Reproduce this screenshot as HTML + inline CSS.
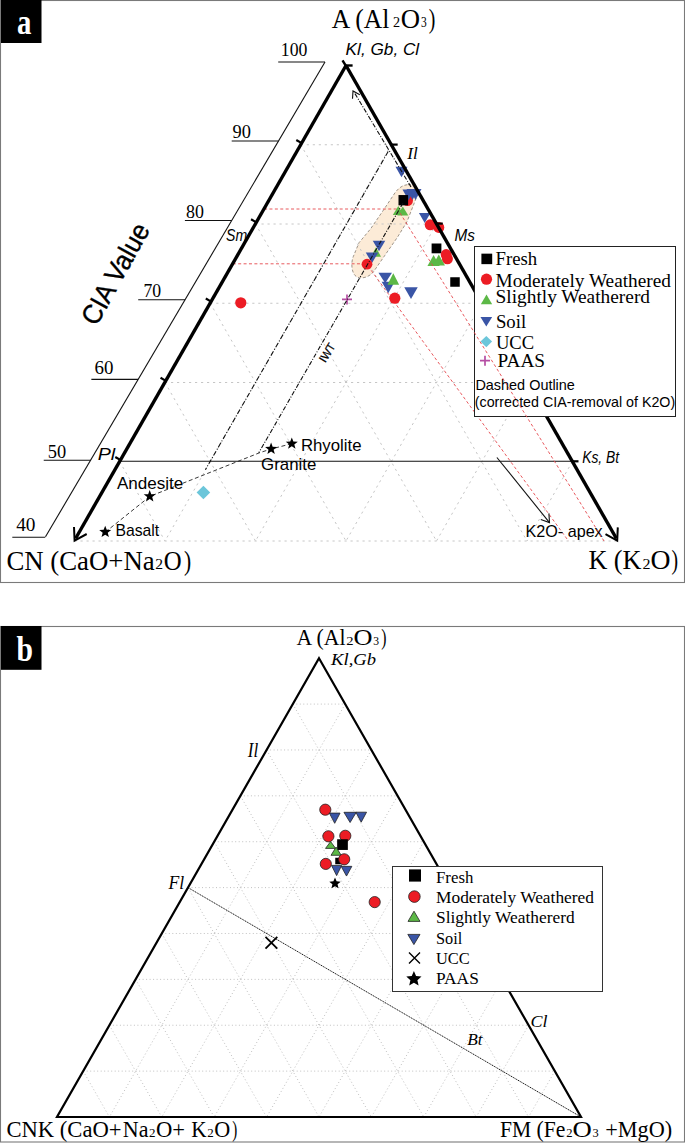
<!DOCTYPE html>
<html><head><meta charset="utf-8"><style>
html,body{margin:0;padding:0;background:#fff;}
svg{display:block;}
</style></head><body>
<svg width="685" height="1143" viewBox="0 0 685 1143">
<rect x="0.5" y="0.5" width="684" height="582" fill="#fff" stroke="#7a7a7a" stroke-width="1.1"/>
<path d="M408,184.6 C414,184 419.5,188 417.2,195.5 L407,221.7 L397.6,237 L384.7,255.6 L374.2,270.8 C370,277 362,279.5 356.7,276.8 C351,273.5 351,262 353.2,256.8 L359,242.7 L370.7,228.7 L383.5,210 L395.2,192.5 C399,187.5 403,185 408,184.6 Z" fill="#fcebd7" stroke="#756b60" stroke-width="0.7" stroke-dasharray="3 2"/>
<line x1="300.75" y1="144.75" x2="391.25" y2="144.75" stroke="#c6c6c6" stroke-width="1" stroke-dasharray="2.2 3.8"/>
<line x1="300.75" y1="144.75" x2="527.00" y2="541.00" stroke="#c6c6c6" stroke-width="1" stroke-dasharray="2.2 3.8"/>
<line x1="391.25" y1="144.75" x2="165.00" y2="541.00" stroke="#c6c6c6" stroke-width="1" stroke-dasharray="2.2 3.8"/>
<line x1="255.50" y1="224.00" x2="436.50" y2="224.00" stroke="#c6c6c6" stroke-width="1" stroke-dasharray="2.2 3.8"/>
<line x1="255.50" y1="224.00" x2="436.50" y2="541.00" stroke="#c6c6c6" stroke-width="1" stroke-dasharray="2.2 3.8"/>
<line x1="436.50" y1="224.00" x2="255.50" y2="541.00" stroke="#c6c6c6" stroke-width="1" stroke-dasharray="2.2 3.8"/>
<line x1="210.25" y1="303.25" x2="481.75" y2="303.25" stroke="#c6c6c6" stroke-width="1" stroke-dasharray="2.2 3.8"/>
<line x1="210.25" y1="303.25" x2="346.00" y2="541.00" stroke="#c6c6c6" stroke-width="1" stroke-dasharray="2.2 3.8"/>
<line x1="481.75" y1="303.25" x2="346.00" y2="541.00" stroke="#c6c6c6" stroke-width="1" stroke-dasharray="2.2 3.8"/>
<line x1="165.00" y1="382.50" x2="527.00" y2="382.50" stroke="#c6c6c6" stroke-width="1" stroke-dasharray="2.2 3.8"/>
<line x1="165.00" y1="382.50" x2="255.50" y2="541.00" stroke="#c6c6c6" stroke-width="1" stroke-dasharray="2.2 3.8"/>
<line x1="527.00" y1="382.50" x2="436.50" y2="541.00" stroke="#c6c6c6" stroke-width="1" stroke-dasharray="2.2 3.8"/>
<line x1="119.75" y1="461.75" x2="165.00" y2="541.00" stroke="#c6c6c6" stroke-width="1" stroke-dasharray="2.2 3.8"/>
<line x1="572.25" y1="461.75" x2="527.00" y2="541.00" stroke="#c6c6c6" stroke-width="1" stroke-dasharray="2.2 3.8"/>
<line x1="74.50" y1="541.00" x2="617.50" y2="541.00" stroke="#c6c6c6" stroke-width="1" stroke-dasharray="2.2 3.8"/>
<line x1="264.06" y1="209.00" x2="398.00" y2="209.00" stroke="#e5474d" stroke-width="0.9" stroke-dasharray="3 2.4"/>
<line x1="232.78" y1="263.80" x2="362.00" y2="263.80" stroke="#e5474d" stroke-width="0.9" stroke-dasharray="3 2.4"/>
<line x1="368.00" y1="266.00" x2="568.50" y2="541.00" stroke="#e5474d" stroke-width="0.9" stroke-dasharray="3 2.4"/>
<line x1="120.01" y1="461.30" x2="571.99" y2="461.30" stroke="#111" stroke-width="1.1"/>
<line x1="388.20" y1="151.50" x2="205.40" y2="469.70" stroke="#111" stroke-width="1.1" stroke-dasharray="5 1.8 1 1.8"/>
<polyline points="105.3,532.1 150,496.3 259.7,452.7 271.1,449 291.8,443.7" fill="none" stroke="#222" stroke-width="0.9" stroke-dasharray="4 2.6"/>
<line x1="496.90" y1="457.50" x2="549.50" y2="522.60" stroke="#111" stroke-width="1.1"/>
<path d="M540.8,519.6 L549.5,522.6 L548.9,513.4" fill="none" stroke="#111" stroke-width="1.1"/>
<polygon points="395.50,166.75 407.50,166.75 401.50,177.25" fill="#3a55a6"/>
<circle cx="407.50" cy="200.50" r="5.50" fill="#ec1c24"/>
<polygon points="402.50,189.40 414.50,189.40 408.50,200.20" fill="#3a55a6"/>
<polygon points="406.50,189.10 418.50,189.10 412.50,199.90" fill="#3a55a6"/>
<polygon points="409.50,189.10 421.50,189.10 415.50,199.90" fill="#3a55a6"/>
<rect x="398.50" y="195.05" width="9.60" height="10.30" fill="#000"/>
<polygon points="398.30,206.10 403.80,215.10 392.80,215.10" fill="#5cb846"/>
<polygon points="402.80,206.50 408.30,215.50 397.30,215.50" fill="#5cb846"/>
<polygon points="418.95,213.10 430.45,213.10 424.70,222.90" fill="#3a55a6"/>
<circle cx="430.20" cy="224.80" r="5.50" fill="#ec1c24"/>
<circle cx="438.80" cy="227.40" r="5.50" fill="#ec1c24"/>
<rect x="431.60" y="243.50" width="9.80" height="9.80" fill="#000"/>
<circle cx="446.20" cy="254.60" r="5.50" fill="#ec1c24"/>
<circle cx="447.40" cy="258.80" r="5.50" fill="#ec1c24"/>
<polygon points="433.60,255.10 439.75,266.10 427.45,266.10" fill="#5cb846"/>
<polygon points="438.80,254.50 444.95,265.50 432.65,265.50" fill="#5cb846"/>
<rect x="450.25" y="277.25" width="9.50" height="9.50" fill="#000"/>
<polygon points="372.75,240.75 385.25,240.75 379.00,251.25" fill="#3a55a6"/>
<polygon points="376.00,247.25 381.00,256.75 371.00,256.75" fill="#5cb846"/>
<polygon points="365.75,252.55 378.25,252.55 372.00,263.05" fill="#3a55a6"/>
<circle cx="367.00" cy="264.20" r="5.40" fill="#ec1c24"/>
<polygon points="378.45,272.75 391.95,272.75 385.20,283.25" fill="#3a55a6"/>
<polygon points="381.70,281.85 394.70,281.85 388.20,293.15" fill="#3a55a6"/>
<polygon points="393.30,273.15 399.15,284.85 387.45,284.85" fill="#5cb846"/>
<polygon points="404.25,287.30 417.75,287.30 411.00,298.90" fill="#3a55a6"/>
<circle cx="394.80" cy="298.20" r="5.60" fill="#ec1c24"/>
<path d="M342,299.4H352M347,294.4V304.4" stroke="#b54ea3" stroke-width="1.7" fill="none"/>
<circle cx="240.80" cy="302.80" r="5.60" fill="#ec1c24"/>
<polygon points="203.4,485.7 210.20000000000002,492.5 203.4,499.3 196.6,492.5" fill="#6cc6da"/>
<line x1="403.00" y1="203.00" x2="258.80" y2="452.70" stroke="#111" stroke-width="1.1" stroke-dasharray="4.5 1.6 1 1.6"/>
<line x1="411.00" y1="187.00" x2="354.00" y2="92.00" stroke="#111" stroke-width="1.1" stroke-dasharray="4.5 1.6 1 1.6"/>
<path d="M352.5,98.8 L353,91 L359.8,94.8" fill="none" stroke="#111" stroke-width="1.1"/>
<line x1="346.00" y1="65.50" x2="75.60" y2="538.50" stroke="#000" stroke-width="3.4"/>
<line x1="346.00" y1="65.50" x2="616.40" y2="538.50" stroke="#000" stroke-width="3.4"/>
<path d="M74,527 L74.6,540.6 L86.7,534" fill="none" stroke="#000" stroke-width="2"/>
<path d="M617.8,527.4 L617.2,540.6 L605.5,534.1" fill="none" stroke="#000" stroke-width="2"/>
<line x1="342.50" y1="60.30" x2="346.00" y2="66.00" stroke="#000" stroke-width="2.4"/>
<line x1="346.00" y1="65.50" x2="352.60" y2="65.50" stroke="#000" stroke-width="2.4"/>
<line x1="301.66" y1="143.15" x2="296.29" y2="140.05" stroke="#000" stroke-width="2.2"/>
<line x1="256.41" y1="222.40" x2="251.04" y2="219.30" stroke="#000" stroke-width="2.2"/>
<line x1="211.16" y1="301.65" x2="205.79" y2="298.55" stroke="#000" stroke-width="2.2"/>
<line x1="165.91" y1="380.90" x2="160.54" y2="377.80" stroke="#000" stroke-width="2.2"/>
<line x1="120.66" y1="460.15" x2="115.29" y2="457.05" stroke="#000" stroke-width="2.2"/>
<line x1="391.16" y1="144.60" x2="397.66" y2="144.60" stroke="#000" stroke-width="2.2"/>
<line x1="436.27" y1="223.60" x2="442.77" y2="223.60" stroke="#000" stroke-width="2.2"/>
<line x1="571.99" y1="461.30" x2="578.49" y2="461.30" stroke="#000" stroke-width="2.2"/>
<polygon points="105.20,525.70 106.76,529.86 111.19,530.05 107.72,532.82 108.90,537.10 105.20,534.65 101.50,537.10 102.68,532.82 99.21,530.05 103.64,529.86" fill="#000"/>
<polygon points="149.70,490.00 151.26,494.16 155.69,494.35 152.22,497.12 153.40,501.40 149.70,498.95 146.00,501.40 147.18,497.12 143.71,494.35 148.14,494.16" fill="#000"/>
<polygon points="271.10,442.60 272.66,446.76 277.09,446.95 273.62,449.72 274.80,454.00 271.10,451.55 267.40,454.00 268.58,449.72 265.11,446.95 269.54,446.76" fill="#000"/>
<polygon points="291.80,437.40 293.36,441.56 297.79,441.75 294.32,444.52 295.50,448.80 291.80,446.35 288.10,448.80 289.28,444.52 285.81,441.75 290.24,441.56" fill="#000"/>
<line x1="325.00" y1="62.00" x2="45.50" y2="536.80" stroke="#111" stroke-width="1.1"/>
<line x1="278.20" y1="62.00" x2="325.00" y2="62.00" stroke="#111" stroke-width="1.1"/>
<text x="280.80" y="55.50" font-size="19.3" font-family="&quot;Liberation Serif&quot;, serif" textLength="26.60" lengthAdjust="spacingAndGlyphs">100</text>
<line x1="231.70" y1="141.00" x2="278.50" y2="141.00" stroke="#111" stroke-width="1.1"/>
<text x="232.60" y="138.40" font-size="19.3" font-family="&quot;Liberation Serif&quot;, serif" textLength="18.40" lengthAdjust="spacingAndGlyphs">90</text>
<line x1="184.90" y1="220.50" x2="231.70" y2="220.50" stroke="#111" stroke-width="1.1"/>
<text x="186.10" y="218.40" font-size="19.3" font-family="&quot;Liberation Serif&quot;, serif" textLength="17.90" lengthAdjust="spacingAndGlyphs">80</text>
<line x1="138.21" y1="299.80" x2="185.01" y2="299.80" stroke="#111" stroke-width="1.1"/>
<text x="143.50" y="297.20" font-size="19.3" font-family="&quot;Liberation Serif&quot;, serif" textLength="17.70" lengthAdjust="spacingAndGlyphs">70</text>
<line x1="91.36" y1="379.40" x2="138.16" y2="379.40" stroke="#111" stroke-width="1.1"/>
<text x="94.60" y="374.20" font-size="19.3" font-family="&quot;Liberation Serif&quot;, serif" textLength="18.90" lengthAdjust="spacingAndGlyphs">60</text>
<line x1="43.73" y1="460.30" x2="90.53" y2="460.30" stroke="#111" stroke-width="1.1"/>
<text x="47.80" y="457.70" font-size="19.3" font-family="&quot;Liberation Serif&quot;, serif" textLength="18.40" lengthAdjust="spacingAndGlyphs">50</text>
<line x1="12.30" y1="537.20" x2="45.26" y2="537.20" stroke="#111" stroke-width="1.1"/>
<text x="16.20" y="531.10" font-size="19.3" font-family="&quot;Liberation Serif&quot;, serif" textLength="19.30" lengthAdjust="spacingAndGlyphs">40</text>
<g transform="translate(96.5,327) rotate(-61)"><text x="0.00" y="0.00" font-size="27.5" font-family="&quot;Liberation Sans&quot;, sans-serif" textLength="111.50" lengthAdjust="spacingAndGlyphs" stroke="#000" stroke-width="0.35">CIA Value</text></g>
<text x="331.80" y="27.50" font-size="27.8" font-family="&quot;Liberation Serif&quot;, serif" textLength="57.50" lengthAdjust="spacingAndGlyphs">A (Al</text>
<text x="393.00" y="27.30" font-size="14.5" font-family="&quot;Liberation Serif&quot;, serif" textLength="7.10" lengthAdjust="spacingAndGlyphs">2</text>
<text x="400.70" y="27.50" font-size="27.8" font-family="&quot;Liberation Serif&quot;, serif" textLength="19.30" lengthAdjust="spacingAndGlyphs">O</text>
<text x="421.00" y="27.30" font-size="14.5" font-family="&quot;Liberation Serif&quot;, serif" textLength="5.70" lengthAdjust="spacingAndGlyphs">3</text>
<text x="428.80" y="27.50" font-size="27.8" font-family="&quot;Liberation Serif&quot;, serif" textLength="6.60" lengthAdjust="spacingAndGlyphs">)</text>
<text x="345.60" y="55.00" font-size="16.5" font-family="&quot;Liberation Sans&quot;, sans-serif" font-style="italic" textLength="73.60" lengthAdjust="spacingAndGlyphs">Kl, Gb, Cl</text>
<text x="6.40" y="569.50" font-size="27.8" font-family="&quot;Liberation Serif&quot;, serif" textLength="148.31" lengthAdjust="spacingAndGlyphs">CN (CaO+Na</text>
<text x="155.20" y="569.30" font-size="14.5" font-family="&quot;Liberation Serif&quot;, serif" textLength="7.80" lengthAdjust="spacingAndGlyphs">2</text>
<text x="163.70" y="569.50" font-size="27.8" font-family="&quot;Liberation Serif&quot;, serif" textLength="17.90" lengthAdjust="spacingAndGlyphs">O</text>
<text x="184.00" y="569.50" font-size="27.8" font-family="&quot;Liberation Serif&quot;, serif" textLength="7.20" lengthAdjust="spacingAndGlyphs">)</text>
<text x="588.40" y="569.40" font-size="27.8" font-family="&quot;Liberation Serif&quot;, serif" textLength="53.11" lengthAdjust="spacingAndGlyphs">K (K</text>
<text x="642.50" y="569.20" font-size="14.5" font-family="&quot;Liberation Serif&quot;, serif" textLength="8.00" lengthAdjust="spacingAndGlyphs">2</text>
<text x="650.50" y="569.40" font-size="27.8" font-family="&quot;Liberation Serif&quot;, serif" textLength="20.00" lengthAdjust="spacingAndGlyphs">O</text>
<text x="671.50" y="569.40" font-size="27.8" font-family="&quot;Liberation Serif&quot;, serif" textLength="6.60" lengthAdjust="spacingAndGlyphs">)</text>
<text x="407.37" y="158.70" font-size="17" font-family="&quot;Liberation Serif&quot;, serif" font-style="italic" textLength="10.53" lengthAdjust="spacingAndGlyphs">Il</text>
<text x="454.40" y="241.00" font-size="17" font-family="&quot;Liberation Sans&quot;, sans-serif" font-style="italic" textLength="20.40" lengthAdjust="spacingAndGlyphs">Ms</text>
<text x="226.00" y="240.50" font-size="17" font-family="&quot;Liberation Sans&quot;, sans-serif" font-style="italic" textLength="21.10" lengthAdjust="spacingAndGlyphs">Sm</text>
<text x="97.70" y="459.50" font-size="16.5" font-family="&quot;Liberation Sans&quot;, sans-serif" font-style="italic" textLength="17.45" lengthAdjust="spacingAndGlyphs">Pl</text>
<text x="582.20" y="462.80" font-size="16.5" font-family="&quot;Liberation Sans&quot;, sans-serif" font-style="italic" textLength="36.91" lengthAdjust="spacingAndGlyphs">Ks, Bt</text>
<g transform="translate(325.3,363.2) rotate(-58)"><text x="0.00" y="0.00" font-size="11.7" font-family="&quot;Liberation Sans&quot;, sans-serif" textLength="19.99" lengthAdjust="spacingAndGlyphs" stroke="#000" stroke-width="0.25">IWT</text></g>
<text x="525.50" y="537.20" font-size="17" font-family="&quot;Liberation Sans&quot;, sans-serif" textLength="77.20" lengthAdjust="spacingAndGlyphs">K2O- apex</text>
<text x="300.90" y="450.70" font-size="16.6" font-family="&quot;Liberation Sans&quot;, sans-serif" textLength="60.60" lengthAdjust="spacingAndGlyphs">Rhyolite</text>
<text x="261.10" y="470.30" font-size="16.6" font-family="&quot;Liberation Sans&quot;, sans-serif" textLength="55.21" lengthAdjust="spacingAndGlyphs">Granite</text>
<text x="116.90" y="489.00" font-size="16.6" font-family="&quot;Liberation Sans&quot;, sans-serif" textLength="66.39" lengthAdjust="spacingAndGlyphs">Andesite</text>
<text x="115.40" y="535.70" font-size="16.6" font-family="&quot;Liberation Sans&quot;, sans-serif" textLength="43.80" lengthAdjust="spacingAndGlyphs">Basalt</text>
<rect x="474.5" y="246.5" width="201" height="170" fill="#fff" stroke="#222" stroke-width="1"/>
<rect x="481.40" y="253.65" width="10.80" height="10.50" fill="#000"/>
<text x="495.50" y="264.90" font-size="18.7" font-family="&quot;Liberation Serif&quot;, serif" textLength="41.70" lengthAdjust="spacingAndGlyphs">Fresh</text>
<circle cx="486.50" cy="279.20" r="5.60" fill="#ec1c24"/>
<text x="495.50" y="287.00" font-size="18.7" font-family="&quot;Liberation Serif&quot;, serif" textLength="175.41" lengthAdjust="spacingAndGlyphs">Moderately Weathered</text>
<polygon points="486.50,294.60 492.15,304.20 480.85,304.20" fill="#5cb846"/>
<text x="495.50" y="303.30" font-size="18.7" font-family="&quot;Liberation Serif&quot;, serif" textLength="154.51" lengthAdjust="spacingAndGlyphs">Slightly Weathererd</text>
<polygon points="480.45,317.00 492.15,317.00 486.30,326.40" fill="#3a55a6"/>
<text x="495.90" y="328.20" font-size="18.7" font-family="&quot;Liberation Serif&quot;, serif" textLength="30.20" lengthAdjust="spacingAndGlyphs">Soil</text>
<polygon points="486.3,336.0 492.1,341.6 486.3,347.20000000000005 480.5,341.6" fill="#6cc6da"/>
<text x="495.90" y="349.10" font-size="18.7" font-family="&quot;Liberation Serif&quot;, serif" textLength="38.20" lengthAdjust="spacingAndGlyphs">UCC</text>
<path d="M480,360.7H490M485,355.7V365.7" stroke="#b54ea3" stroke-width="1.7" fill="none"/>
<text x="497.60" y="367.40" font-size="18.7" font-family="&quot;Liberation Serif&quot;, serif" textLength="47.50" lengthAdjust="spacingAndGlyphs">PAAS</text>
<text x="475.40" y="390.40" font-size="14.5" font-family="&quot;Liberation Sans&quot;, sans-serif" textLength="99.50" lengthAdjust="spacingAndGlyphs">Dashed Outline</text>
<text x="474.80" y="407.10" font-size="14.5" font-family="&quot;Liberation Sans&quot;, sans-serif" textLength="200.40" lengthAdjust="spacingAndGlyphs">(corrected CIA-removal of K2O)</text>
<line x1="400.00" y1="213.00" x2="604.00" y2="541.00" stroke="#e5474d" stroke-width="0.9" stroke-dasharray="3 2.4"/>
<rect x="1" y="0" width="40.5" height="43" fill="#000"/>
<text x="17.10" y="33.50" font-size="35" font-family="&quot;Liberation Serif&quot;, serif" font-weight="bold" fill="#fff" textLength="14.40" lengthAdjust="spacingAndGlyphs">a</text>
<rect x="0.5" y="626.5" width="684" height="515.5" fill="#fff" stroke="#7a7a7a" stroke-width="1.1"/>
<line x1="292.80" y1="704.08" x2="345.20" y2="704.08" stroke="#c0c0c0" stroke-width="1" stroke-dasharray="1 2.5"/>
<line x1="292.80" y1="704.08" x2="528.60" y2="1117.00" stroke="#c0c0c0" stroke-width="1" stroke-dasharray="1 2.5"/>
<line x1="345.20" y1="704.08" x2="109.40" y2="1117.00" stroke="#c0c0c0" stroke-width="1" stroke-dasharray="1 2.5"/>
<line x1="266.60" y1="749.96" x2="371.40" y2="749.96" stroke="#c0c0c0" stroke-width="1" stroke-dasharray="1 2.5"/>
<line x1="266.60" y1="749.96" x2="476.20" y2="1117.00" stroke="#c0c0c0" stroke-width="1" stroke-dasharray="1 2.5"/>
<line x1="371.40" y1="749.96" x2="161.80" y2="1117.00" stroke="#c0c0c0" stroke-width="1" stroke-dasharray="1 2.5"/>
<line x1="240.40" y1="795.84" x2="397.60" y2="795.84" stroke="#c0c0c0" stroke-width="1" stroke-dasharray="1 2.5"/>
<line x1="240.40" y1="795.84" x2="423.80" y2="1117.00" stroke="#c0c0c0" stroke-width="1" stroke-dasharray="1 2.5"/>
<line x1="397.60" y1="795.84" x2="214.20" y2="1117.00" stroke="#c0c0c0" stroke-width="1" stroke-dasharray="1 2.5"/>
<line x1="214.20" y1="841.72" x2="423.80" y2="841.72" stroke="#c0c0c0" stroke-width="1" stroke-dasharray="1 2.5"/>
<line x1="214.20" y1="841.72" x2="371.40" y2="1117.00" stroke="#c0c0c0" stroke-width="1" stroke-dasharray="1 2.5"/>
<line x1="423.80" y1="841.72" x2="266.60" y2="1117.00" stroke="#c0c0c0" stroke-width="1" stroke-dasharray="1 2.5"/>
<line x1="188.00" y1="887.60" x2="450.00" y2="887.60" stroke="#c0c0c0" stroke-width="1" stroke-dasharray="1 2.5"/>
<line x1="188.00" y1="887.60" x2="319.00" y2="1117.00" stroke="#c0c0c0" stroke-width="1" stroke-dasharray="1 2.5"/>
<line x1="450.00" y1="887.60" x2="319.00" y2="1117.00" stroke="#c0c0c0" stroke-width="1" stroke-dasharray="1 2.5"/>
<line x1="161.80" y1="933.48" x2="476.20" y2="933.48" stroke="#c0c0c0" stroke-width="1" stroke-dasharray="1 2.5"/>
<line x1="161.80" y1="933.48" x2="266.60" y2="1117.00" stroke="#c0c0c0" stroke-width="1" stroke-dasharray="1 2.5"/>
<line x1="476.20" y1="933.48" x2="371.40" y2="1117.00" stroke="#c0c0c0" stroke-width="1" stroke-dasharray="1 2.5"/>
<line x1="135.60" y1="979.36" x2="502.40" y2="979.36" stroke="#c0c0c0" stroke-width="1" stroke-dasharray="1 2.5"/>
<line x1="135.60" y1="979.36" x2="214.20" y2="1117.00" stroke="#c0c0c0" stroke-width="1" stroke-dasharray="1 2.5"/>
<line x1="502.40" y1="979.36" x2="423.80" y2="1117.00" stroke="#c0c0c0" stroke-width="1" stroke-dasharray="1 2.5"/>
<line x1="109.40" y1="1025.24" x2="528.60" y2="1025.24" stroke="#c0c0c0" stroke-width="1" stroke-dasharray="1 2.5"/>
<line x1="109.40" y1="1025.24" x2="161.80" y2="1117.00" stroke="#c0c0c0" stroke-width="1" stroke-dasharray="1 2.5"/>
<line x1="528.60" y1="1025.24" x2="476.20" y2="1117.00" stroke="#c0c0c0" stroke-width="1" stroke-dasharray="1 2.5"/>
<line x1="83.20" y1="1071.12" x2="554.80" y2="1071.12" stroke="#c0c0c0" stroke-width="1" stroke-dasharray="1 2.5"/>
<line x1="83.20" y1="1071.12" x2="109.40" y2="1117.00" stroke="#c0c0c0" stroke-width="1" stroke-dasharray="1 2.5"/>
<line x1="554.80" y1="1071.12" x2="528.60" y2="1117.00" stroke="#c0c0c0" stroke-width="1" stroke-dasharray="1 2.5"/>
<line x1="188.00" y1="887.60" x2="581.00" y2="1117.00" stroke="#000" stroke-width="0.9" stroke-dasharray="1.3 0.7"/>
<polygon points="319,658.2 581,1117 57,1117" fill="none" stroke="#000" stroke-width="2.2" stroke-linejoin="miter"/>
<circle cx="325.30" cy="809.70" r="5.60" fill="#ec1c24" stroke="#222" stroke-width="0.8"/>
<polygon points="329.35,813.10 340.05,813.10 334.70,823.30" fill="#3a55a6" stroke="#222" stroke-width="0.8" stroke-linejoin="miter"/>
<polygon points="343.95,812.30 356.25,812.30 350.10,822.50" fill="#3a55a6" stroke="#222" stroke-width="0.8" stroke-linejoin="miter"/>
<polygon points="355.85,812.20 366.55,812.20 361.20,822.20" fill="#3a55a6" stroke="#222" stroke-width="0.8" stroke-linejoin="miter"/>
<circle cx="328.40" cy="836.30" r="5.60" fill="#ec1c24" stroke="#222" stroke-width="0.8"/>
<circle cx="345.30" cy="835.80" r="5.60" fill="#ec1c24" stroke="#222" stroke-width="0.8"/>
<polygon points="330.60,841.60 335.70,848.40 325.50,848.40" fill="#5cb846" stroke="#222" stroke-width="0.8" stroke-linejoin="miter"/>
<rect x="337.15" y="839.25" width="10.70" height="10.70" fill="#000"/>
<polygon points="336.10,847.10 341.20,855.30 331.00,855.30" fill="#5cb846" stroke="#222" stroke-width="0.8" stroke-linejoin="miter"/>
<rect x="335.25" y="857.75" width="6.50" height="6.50" fill="#000"/>
<circle cx="344.20" cy="859.30" r="5.60" fill="#ec1c24" stroke="#222" stroke-width="0.8"/>
<circle cx="325.80" cy="863.90" r="5.60" fill="#ec1c24" stroke="#222" stroke-width="0.8"/>
<polygon points="331.50,865.40 341.70,865.40 336.60,875.60" fill="#3a55a6" stroke="#222" stroke-width="0.8" stroke-linejoin="miter"/>
<polygon points="341.15,866.35 351.85,866.35 346.50,876.05" fill="#3a55a6" stroke="#222" stroke-width="0.8" stroke-linejoin="miter"/>
<polygon points="335.00,877.50 336.59,881.32 340.71,881.65 337.57,884.33 338.53,888.35 335.00,886.20 331.47,888.35 332.43,884.33 329.29,881.65 333.41,881.32" fill="#000"/>
<circle cx="374.70" cy="902.10" r="5.60" fill="#ec1c24" stroke="#222" stroke-width="0.8"/>
<path d="M265.5,936.9 L277.3,948.7 M277.3,936.9 L265.5,948.7" stroke="#000" stroke-width="1.8"/>
<text x="296.60" y="645.40" font-size="24" font-family="&quot;Liberation Serif&quot;, serif" textLength="48.90" lengthAdjust="spacingAndGlyphs">A (Al</text>
<text x="346.20" y="645.20" font-size="12" font-family="&quot;Liberation Serif&quot;, serif" textLength="7.30" lengthAdjust="spacingAndGlyphs">2</text>
<text x="353.50" y="645.40" font-size="24" font-family="&quot;Liberation Serif&quot;, serif" textLength="19.00" lengthAdjust="spacingAndGlyphs">O</text>
<text x="373.20" y="645.20" font-size="12" font-family="&quot;Liberation Serif&quot;, serif" textLength="5.80" lengthAdjust="spacingAndGlyphs">3</text>
<text x="381.20" y="645.40" font-size="24" font-family="&quot;Liberation Serif&quot;, serif" textLength="5.20" lengthAdjust="spacingAndGlyphs">)</text>
<text x="331.12" y="665.10" font-size="17.5" font-family="&quot;Liberation Serif&quot;, serif" font-style="italic" textLength="44.98" lengthAdjust="spacingAndGlyphs">Kl,Gb</text>
<text x="247.77" y="756.90" font-size="20" font-family="&quot;Liberation Serif&quot;, serif" font-style="italic" textLength="10.43" lengthAdjust="spacingAndGlyphs">Il</text>
<text x="168.51" y="889.40" font-size="18.5" font-family="&quot;Liberation Serif&quot;, serif" font-style="italic" textLength="15.69" lengthAdjust="spacingAndGlyphs">Fl</text>
<text x="530.40" y="1026.80" font-size="17" font-family="&quot;Liberation Serif&quot;, serif" font-style="italic" textLength="17.00" lengthAdjust="spacingAndGlyphs">Cl</text>
<text x="467.30" y="1045.20" font-size="17" font-family="&quot;Liberation Serif&quot;, serif" font-style="italic" textLength="15.35" lengthAdjust="spacingAndGlyphs">Bt</text>
<text x="6.40" y="1136.90" font-size="24" font-family="&quot;Liberation Serif&quot;, serif" textLength="115.21" lengthAdjust="spacingAndGlyphs">CNK (CaO+</text>
<text x="122.80" y="1136.90" font-size="24" font-family="&quot;Liberation Serif&quot;, serif" textLength="25.70" lengthAdjust="spacingAndGlyphs">Na</text>
<text x="149.00" y="1136.70" font-size="12" font-family="&quot;Liberation Serif&quot;, serif" textLength="6.50" lengthAdjust="spacingAndGlyphs">2</text>
<text x="156.00" y="1136.90" font-size="24" font-family="&quot;Liberation Serif&quot;, serif" textLength="29.10" lengthAdjust="spacingAndGlyphs">O+</text>
<text x="191.30" y="1136.90" font-size="24" font-family="&quot;Liberation Serif&quot;, serif" textLength="15.40" lengthAdjust="spacingAndGlyphs">K</text>
<text x="207.30" y="1136.70" font-size="12" font-family="&quot;Liberation Serif&quot;, serif" textLength="6.50" lengthAdjust="spacingAndGlyphs">2</text>
<text x="214.20" y="1136.90" font-size="24" font-family="&quot;Liberation Serif&quot;, serif" textLength="16.00" lengthAdjust="spacingAndGlyphs">O</text>
<text x="232.20" y="1136.90" font-size="24" font-family="&quot;Liberation Serif&quot;, serif" textLength="5.00" lengthAdjust="spacingAndGlyphs">)</text>
<text x="500.00" y="1136.90" font-size="24" font-family="&quot;Liberation Serif&quot;, serif" textLength="65.41" lengthAdjust="spacingAndGlyphs">FM (Fe</text>
<text x="566.30" y="1136.70" font-size="12" font-family="&quot;Liberation Serif&quot;, serif" textLength="6.30" lengthAdjust="spacingAndGlyphs">2</text>
<text x="572.60" y="1136.90" font-size="24" font-family="&quot;Liberation Serif&quot;, serif" textLength="19.30" lengthAdjust="spacingAndGlyphs">O</text>
<text x="592.50" y="1136.70" font-size="12" font-family="&quot;Liberation Serif&quot;, serif" textLength="6.20" lengthAdjust="spacingAndGlyphs">3</text>
<text x="605.30" y="1136.90" font-size="24" font-family="&quot;Liberation Serif&quot;, serif" textLength="66.91" lengthAdjust="spacingAndGlyphs">+MgO)</text>
<rect x="392.5" y="866.5" width="210" height="125" fill="#fff" stroke="#333" stroke-width="1"/>
<rect x="409.00" y="869.40" width="12.00" height="12.20" fill="#000"/>
<text x="436.00" y="883.00" font-size="17.2" font-family="&quot;Liberation Serif&quot;, serif" textLength="37.40" lengthAdjust="spacingAndGlyphs">Fresh</text>
<circle cx="414.40" cy="896.60" r="5.80" fill="#ec1c24" stroke="#222" stroke-width="0.8"/>
<text x="436.00" y="903.30" font-size="17.2" font-family="&quot;Liberation Serif&quot;, serif" textLength="158.00" lengthAdjust="spacingAndGlyphs">Moderately Weathered</text>
<polygon points="414.00,911.20 420.00,921.40 408.00,921.40" fill="#5cb846" stroke="#222" stroke-width="0.8" stroke-linejoin="miter"/>
<text x="436.00" y="923.40" font-size="17.2" font-family="&quot;Liberation Serif&quot;, serif" textLength="138.61" lengthAdjust="spacingAndGlyphs">Slightly Weathererd</text>
<polygon points="407.80,934.40 420.00,934.40 413.90,944.60" fill="#3a55a6" stroke="#222" stroke-width="0.8" stroke-linejoin="miter"/>
<text x="436.00" y="943.70" font-size="17.2" font-family="&quot;Liberation Serif&quot;, serif" textLength="26.30" lengthAdjust="spacingAndGlyphs">Soil</text>
<path d="M409,952.6 L420,963.6 M420,952.6 L409,963.6" stroke="#000" stroke-width="1.4"/>
<text x="436.00" y="963.80" font-size="17.2" font-family="&quot;Liberation Serif&quot;, serif" textLength="33.80" lengthAdjust="spacingAndGlyphs">UCC</text>
<polygon points="413.90,971.00 416.06,976.02 421.51,976.53 417.40,980.14 418.60,985.47 413.90,982.68 409.20,985.47 410.40,980.14 406.29,976.53 411.74,976.02" fill="#000"/>
<text x="436.00" y="984.10" font-size="17.2" font-family="&quot;Liberation Serif&quot;, serif" textLength="42.80" lengthAdjust="spacingAndGlyphs">PAAS</text>
<rect x="1" y="626" width="40.5" height="43.8" fill="#000"/>
<text x="16.50" y="661.00" font-size="35" font-family="&quot;Liberation Serif&quot;, serif" font-weight="bold" fill="#fff" textLength="16.50" lengthAdjust="spacingAndGlyphs">b</text>
</svg>
</body></html>
